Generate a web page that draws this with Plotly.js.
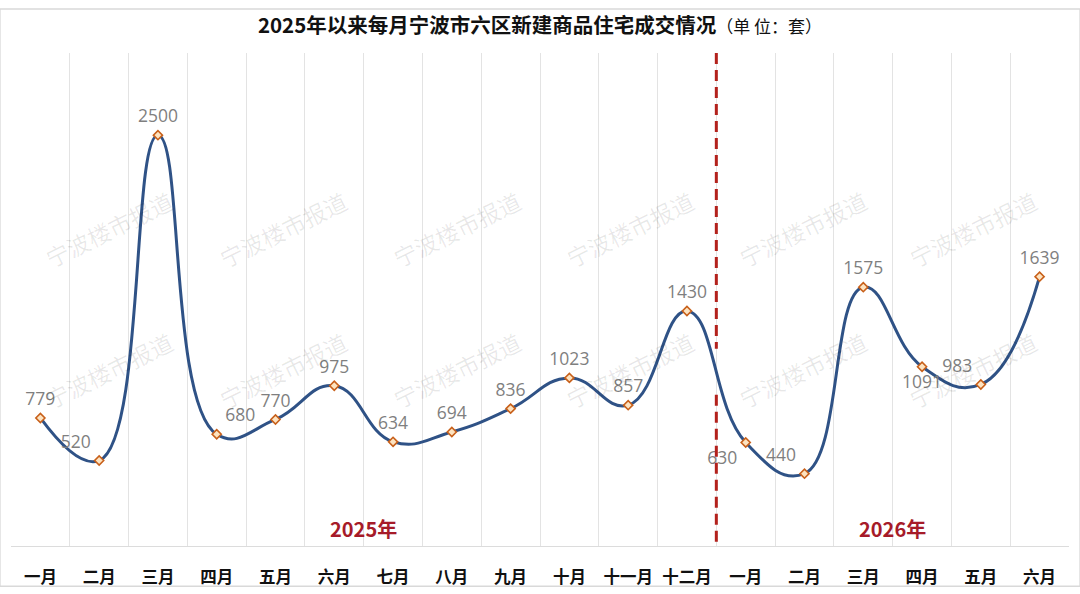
<!DOCTYPE html>
<html>
<head>
<meta charset="utf-8">
<script src="https://cdn.plot.ly/plotly-3.0.1.min.js"></script>
<style>html,body{margin:0;padding:0;background:#fff;}#chart{width:1080px;height:594px;}</style>
</head>
<body>
<div id="chart"></div>
<script>
const months = ['一月','二月','三月','四月','五月','六月','七月','八月','九月','十月','十一月','十二月','一月 ','二月 ','三月 ','四月 ','五月 ','六月 '];
const tickLabels = ['一月','二月','三月','四月','五月','六月','七月','八月','九月','十月','十一月','十二月','一月','二月','三月','四月','五月','六月'];
const sales = [779, 520, 2500, 680, 770, 975, 634, 694, 836, 1023, 857, 1430, 630, 440, 1575, 1091, 983, 1639];
const labelPos = ['top center','top left','top center','top right','top center','top center','top center','top center','top center','top center','top center','top center','bottom left','top left','top center','bottom center','top left','top center'];
const yearLabels = ['2025年','2026年'];
const yearCenters = [5.5, 14.5];
const watermark = '宁波楼市报道';

const CJK = '"Noto Sans CJK SC", "Open Sans", sans-serif';
const NUM = '"Open Sans", "Noto Sans CJK SC", sans-serif';

const lineTrace = {
  type: 'scatter',
  mode: 'lines+markers',
  x: months,
  y: sales,
  line: {color: '#2f5286', width: 3, shape: 'spline', smoothing: 1.3},
  marker: {symbol: 'diamond', size: 7, color: '#fde3c0', line: {color: '#c8601a', width: 1.6}},
  hoverinfo: 'skip'
};
const labelTrace = {
  type: 'scatter',
  mode: 'markers+text',
  x: months,
  y: sales,
  text: sales.map(String),
  textposition: labelPos,
  textfont: {family: NUM, size: 17.5, color: '#7f7f7f'},
  marker: {size: 12, opacity: 0},
  cliponaxis: false,
  hoverinfo: 'skip'
};

const annotations = [];
yearLabels.forEach((t, i) => {
  annotations.push({
    x: yearCenters[i], y: 0, xref: 'x', yref: 'y', yanchor: 'bottom', yshift: 1,
    text: '<b>' + t + '</b>', showarrow: false,
    font: {family: CJK, size: 20, color: '#a61b29'}
  });
});
// watermarks
const wmX = [100, 278, 455, 632, 808, 982];
const wmY = [212, 382];
wmY.forEach(py => {
  wmX.forEach(px => {
    annotations.push({
      x: px / 1080, y: 1 - py / 594, xref: 'paper', yref: 'paper',
      xanchor: 'center', yanchor: 'middle',
      text: watermark, showarrow: false, textangle: -26,
      font: {family: CJK, size: 23, color: 'rgba(0,0,0,0.09)'}
    });
  });
});

const splitIdx = 11.5;
const shapes = [
  {type: 'line', xref: 'x', yref: 'y', x0: splitIdx, x1: splitIdx, y0: 3000, y1: 1200,
   line: {color: '#b3211c', width: 3, dash: '11px,6px'}},
  {type: 'line', xref: 'x', yref: 'y', x0: splitIdx, x1: splitIdx, y0: 920, y1: 0,
   line: {color: '#b3211c', width: 3, dash: '11px,6px'}},
  {type: 'rect', xref: 'paper', yref: 'paper', x0: -0.0105, x1: 1.0105, y0: -0.0815, y1: 1.089,
   line: {color: '#d9d9d9', width: 1.5}, fillcolor: 'rgba(0,0,0,0)', layer: 'below'}
];

const layout = {
  width: 1080, height: 594,
  margin: {l: 11.4, r: 11.4, t: 53, b: 48.4},
  paper_bgcolor: '#ffffff', plot_bgcolor: '#ffffff',
  showlegend: false,
  title: {
    text: '<b>2025年以来每月宁波市六区新建商品住宅成交情况</b><span style="font-size:17px;font-weight:normal">（单 位：套）</span>',
    x: 0.5, xanchor: 'center', y: 0.957, yanchor: 'middle',
    font: {family: CJK, size: 20.5, color: '#111111'}
  },
  xaxis: {
    type: 'category',
    tickmode: 'array', tickvals: months, ticktext: tickLabels.map(t => '<b>' + t + '</b>'),
    tickson: 'boundaries', tickangle: 0, automargin: false,
    showgrid: true, gridcolor: '#e3e3e3', gridwidth: 1,
    showline: true, linecolor: '#dcdcdc', linewidth: 1,
    ticks: '', ticklabelstandoff: 16,
    tickfont: {family: CJK, size: 16.5, color: '#111111'},
    range: [-0.5, 17.5], fixedrange: true, zeroline: false
  },
  yaxis: {
    range: [0, 3000], visible: false, showgrid: false, zeroline: false, fixedrange: true
  },
  annotations: annotations,
  shapes: shapes
};

Plotly.newPlot('chart', [lineTrace, labelTrace], layout, {staticPlot: true, displayModeBar: false});
</script>
</body>
</html>
